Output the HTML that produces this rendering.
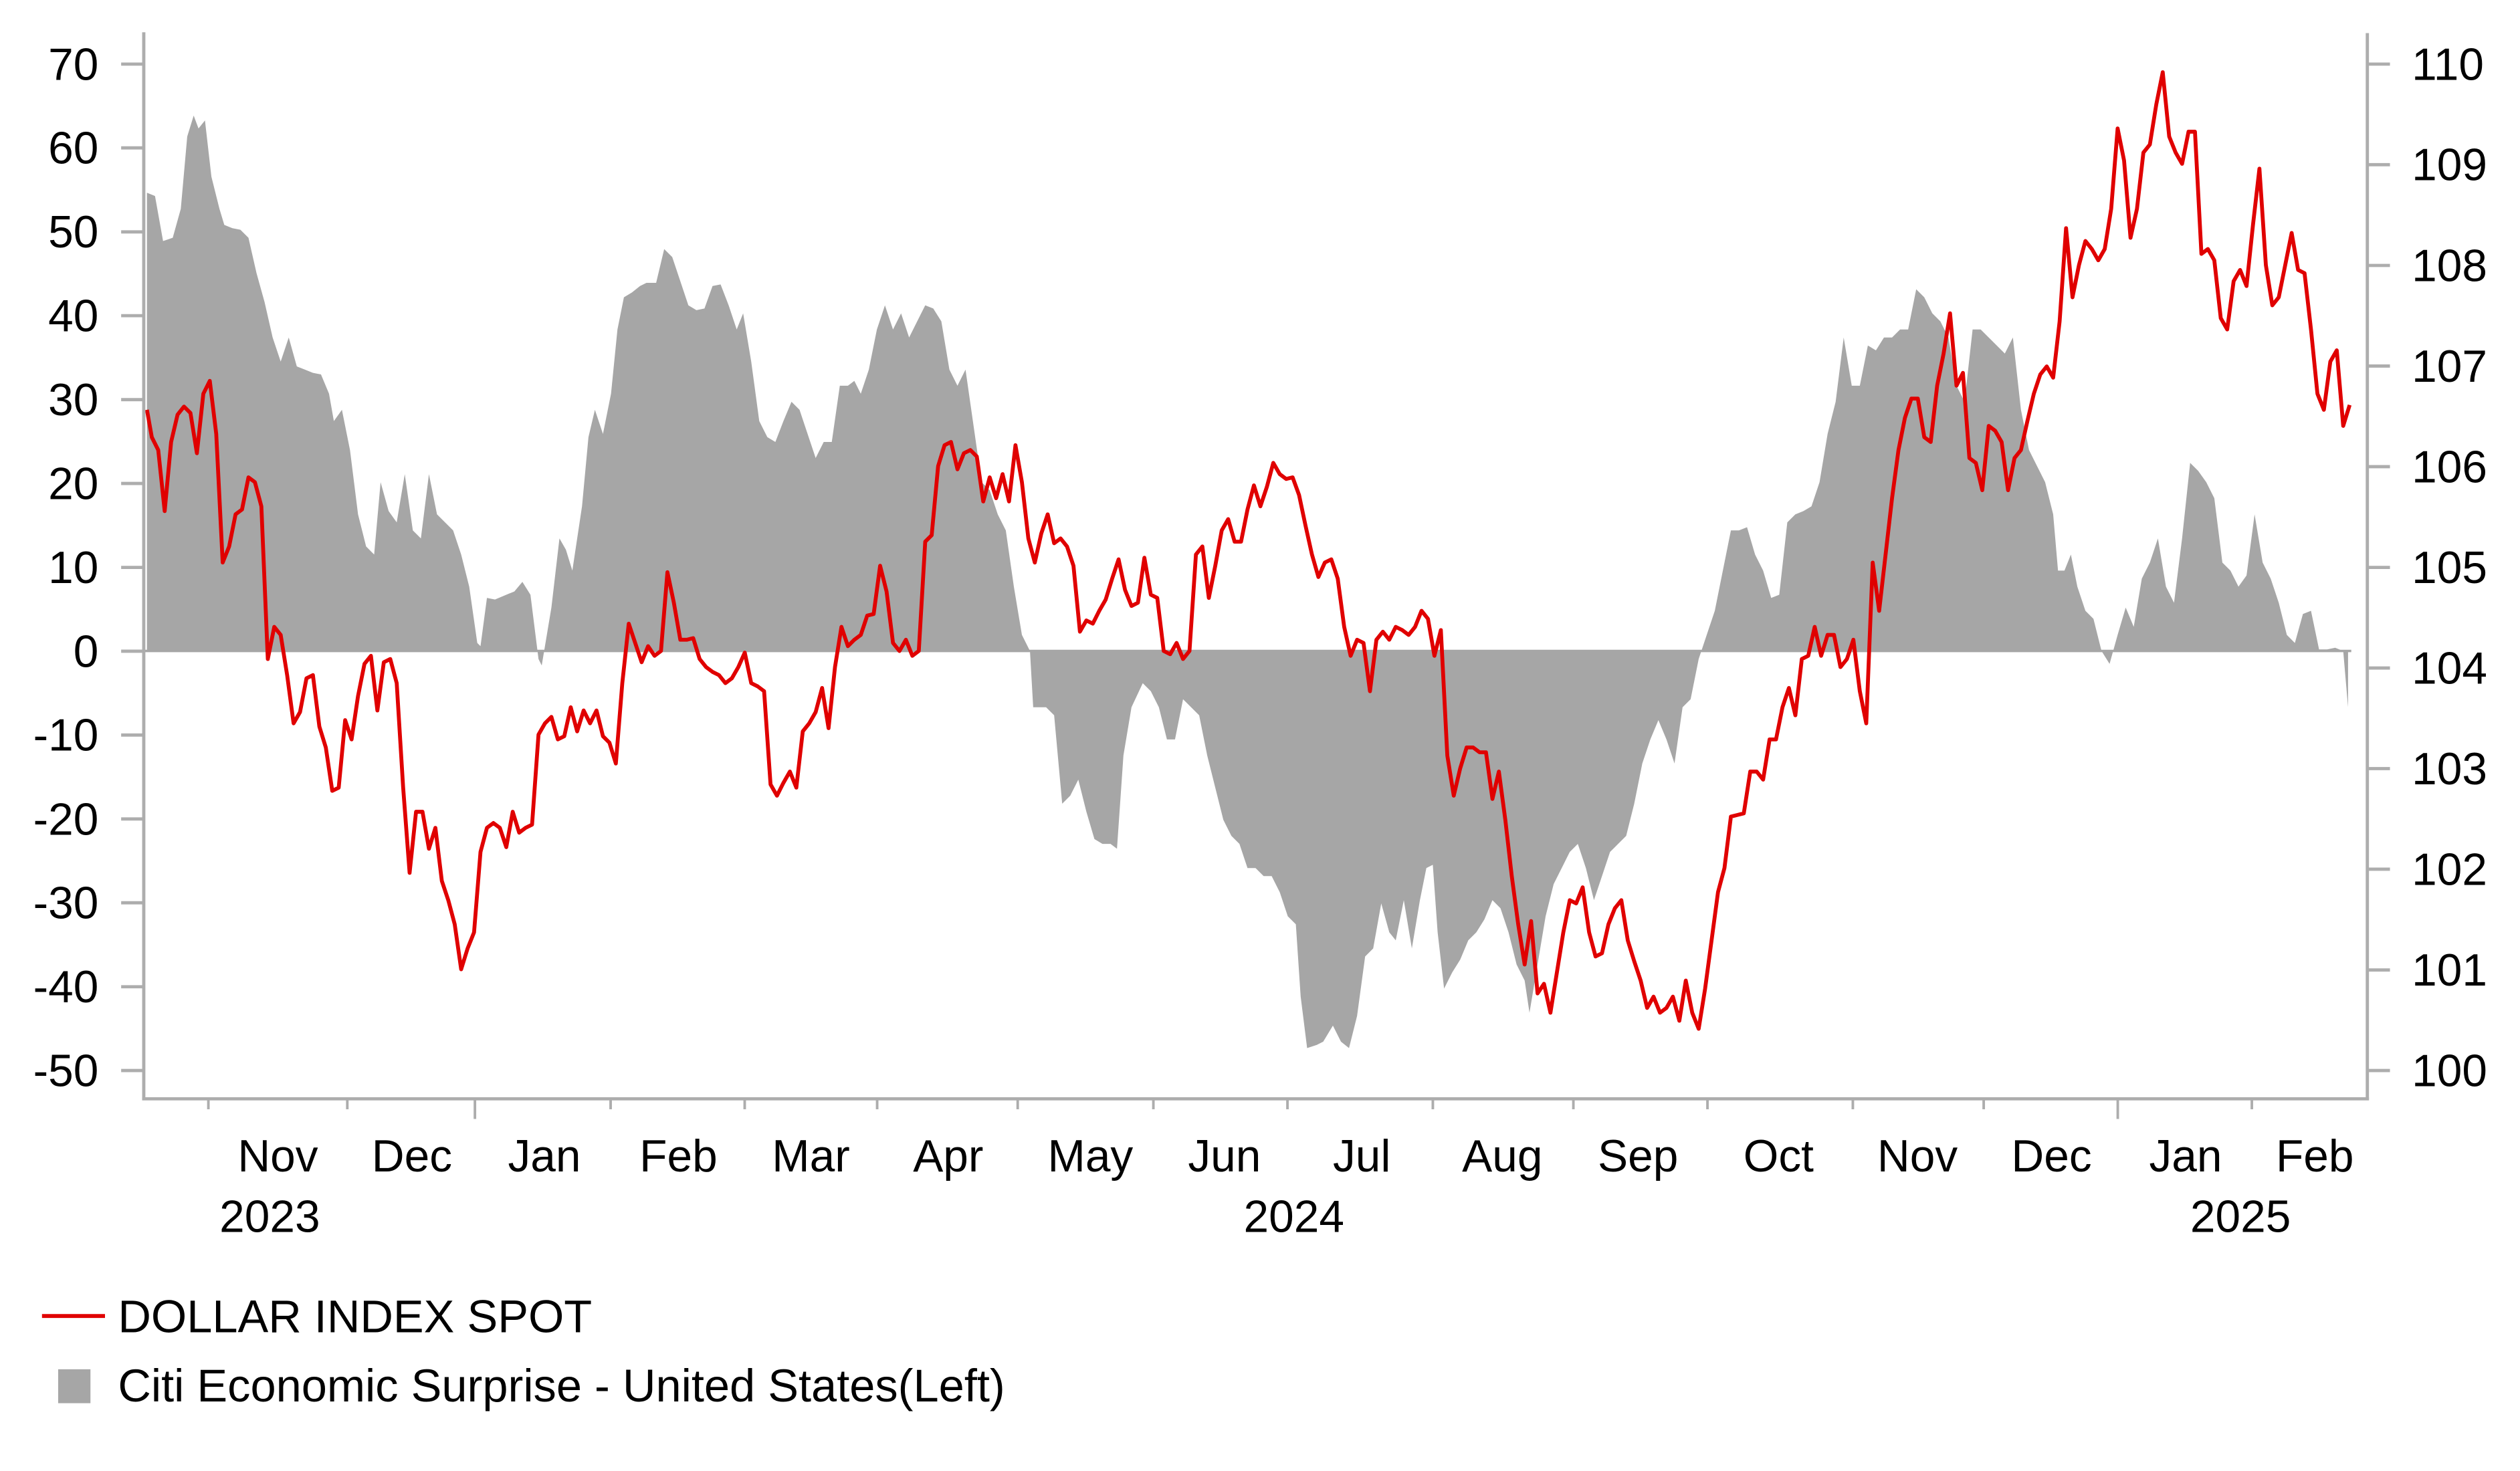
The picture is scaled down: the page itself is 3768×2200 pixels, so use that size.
<!DOCTYPE html>
<html><head><meta charset="utf-8"><style>
html,body{margin:0;padding:0;background:#fff;}
svg{display:block;}
text{font-family:"Liberation Sans",Arial,sans-serif;fill:#000;}
</style></head><body>
<svg width="3768" height="2200" viewBox="0 0 1560 911" preserveAspectRatio="none" xmlns="http://www.w3.org/2000/svg">
<rect width="1560" height="911" fill="#fff"/>
<g transform="matrix(0.9975 0 0 0.9957 -0.8 -0.1)">
<polygon fill="#a6a6a6" points="92,405 92,120 97,122 102,150 108,148 113,130 117,85 121,72 124,80 128,75 132,110 137,130 140,140 145,142 150,143 155,148 160,170 165,188 170,210 175,225 180,210 185,228 190,230 195,232 200,233 205,245 208,262 213,255 218,280 223,320 228,340 233,345 237,300 242,318 247,325 252,295 257,330 262,335 267,295 272,320 277,325 282,330 287,345 292,365 297,400 299,402 303,372 308,373 315,370 320,368 325,362 330,370 335,410 337,414 343,378 348,335 352,342 356,355 362,315 366,272 370,255 375,270 380,245 384,205 388,185 393,182 398,178 402,176 408,176 413,155 418,160 423,175 428,190 433,193 438,192 443,178 448,177 453,190 458,205 462,195 467,225 472,262 477,272 482,275 487,262 492,250 497,255 502,270 507,285 512,275 517,275 522,240 527,240 531,237 535,245 540,230 545,205 550,190 555,205 560,195 565,210 570,200 575,190 580,192 585,200 590,230 595,240 600,230 605,265 610,300 615,305 620,320 625,330 630,365 635,395 640,405 642,440 650,440 655,445 660,500 665,495 670,485 675,505 680,522 685,525 690,525 694,528 698,470 703,440 710,425 715,430 720,440 725,460 730,460 735,435 740,440 745,445 750,470 755,490 760,510 765,520 770,525 775,540 780,540 785,545 790,545 795,555 800,570 805,575 808,620 812,652 818,650 822,648 828,638 833,648 838,652 843,632 848,595 853,590 858,562 863,580 867,585 872,560 877,590 882,560 886,540 890,538 893,580 897,615 902,605 907,597 912,585 917,580 922,572 927,560 932,565 937,580 942,600 947,610 950,630 955,600 960,570 965,550 970,540 975,530 980,525 985,540 990,560 995,545 1000,530 1005,525 1010,520 1015,500 1020,475 1025,460 1030,448 1035,460 1040,475 1045,440 1050,435 1055,410 1060,395 1065,380 1070,355 1075,330 1080,330 1085,328 1090,345 1095,355 1100,372 1105,370 1110,325 1115,320 1120,318 1125,315 1130,300 1135,270 1140,250 1145,210 1150,240 1155,240 1160,215 1165,218 1170,210 1175,210 1180,205 1185,205 1190,180 1195,185 1200,195 1205,200 1210,210 1215,240 1220,250 1225,205 1230,205 1235,210 1240,215 1245,220 1250,210 1255,255 1260,280 1265,290 1270,300 1275,320 1278,355 1282,355 1286,345 1290,365 1295,380 1300,385 1305,405 1310,413 1315,395 1320,378 1325,390 1330,360 1335,350 1340,335 1345,365 1350,375 1355,335 1360,288 1365,293 1370,300 1375,310 1380,350 1385,355 1390,365 1395,358 1400,320 1405,350 1410,360 1415,375 1420,395 1425,400 1430,382 1435,380 1440,404 1445,404 1450,403 1455,405 1458,440 1458,405"/>
<line x1="90" y1="405" x2="1460" y2="405" stroke="#a6a6a6" stroke-width="1.5"/>
<polyline fill="none" stroke="#e00000" stroke-width="2.4" stroke-linejoin="round" points="92,255 95,272 99,280 103,318 107,275 111,258 115,253 119,257 123,282 127,245 131,237 135,270 139,350 143,340 147,320 151,317 155,297 159,300 163,315 167,410 171,390 175,395 179,420 183,450 187,443 191,422 195,420 199,452 203,465 207,492 211,490 215,448 219,460 223,433 227,413 231,408 235,442 239,412 243,410 247,425 251,490 255,543 259,505 263,505 267,528 271,515 275,548 279,560 283,575 287,603 291,590 295,580 299,530 303,515 307,512 311,515 315,527 319,505 323,518 327,515 331,513 335,457 339,450 343,446 347,460 351,458 355,440 359,455 363,442 367,450 371,442 375,458 379,462 383,475 387,425 391,388 395,400 399,412 403,402 407,408 411,405 415,356 419,375 423,398 427,398 431,397 435,410 439,415 443,418 447,420 451,425 455,422 459,415 463,406 467,425 471,427 475,430 479,488 483,495 487,487 491,480 495,490 499,455 503,450 507,443 511,428 515,453 519,415 523,390 527,402 531,398 535,395 539,383 543,382 547,352 551,368 555,400 559,405 563,398 567,408 571,405 575,337 579,333 583,290 587,277 591,275 595,292 599,282 603,280 607,284 611,312 615,297 619,310 623,295 627,312 631,277 635,300 639,335 643,350 647,332 651,320 655,338 659,335 663,340 667,352 671,393 675,386 679,388 683,380 687,373 691,360 695,348 699,367 703,377 707,375 711,347 715,370 719,372 723,405 727,407 731,400 735,410 739,405 743,345 747,340 751,372 755,352 759,330 763,323 767,337 771,337 775,317 779,302 783,315 787,303 791,288 795,295 799,298 803,297 807,308 811,327 815,345 819,359 823,350 827,348 831,360 835,390 839,408 843,398 847,400 851,430 855,398 859,393 863,398 867,390 871,392 875,395 879,390 883,380 887,385 891,408 895,392 899,470 903,495 907,478 911,465 915,465 919,468 923,468 927,497 931,480 935,510 939,545 943,575 947,600 951,573 955,618 959,612 963,630 967,605 971,580 975,560 979,562 983,552 987,580 991,595 995,593 999,575 1003,565 1007,560 1011,585 1015,598 1019,610 1023,627 1027,620 1031,630 1035,627 1039,620 1043,635 1047,610 1051,630 1055,640 1059,615 1063,585 1067,555 1071,540 1075,508 1079,507 1083,506 1087,480 1091,480 1095,485 1099,460 1103,460 1107,440 1111,428 1115,445 1119,410 1123,408 1127,390 1131,408 1135,395 1139,395 1143,415 1147,410 1151,398 1155,430 1159,450 1163,350 1167,380 1171,345 1175,310 1179,280 1183,260 1187,248 1191,248 1195,272 1199,275 1203,240 1207,220 1211,195 1215,240 1219,232 1223,285 1227,288 1231,305 1235,265 1239,268 1243,275 1247,305 1251,285 1255,280 1259,262 1263,245 1267,233 1271,228 1275,235 1279,200 1283,142 1287,185 1291,165 1295,150 1299,155 1303,162 1307,155 1311,130 1315,80 1319,100 1323,148 1327,130 1331,95 1335,90 1339,65 1343,45 1347,85 1351,95 1355,102 1359,82 1363,82 1367,158 1371,155 1375,162 1379,198 1383,205 1387,175 1391,168 1395,178 1399,140 1403,105 1407,165 1411,190 1415,185 1419,165 1423,145 1427,168 1431,170 1435,205 1439,245 1443,255 1447,225 1451,218 1455,265 1459,252"/>
</g>
<g stroke="#adadad" stroke-width="2" fill="none">
<line x1="89" y1="20" x2="89" y2="681"/>
<line x1="1465.5" y1="20.5" x2="1465.5" y2="681"/>
<line x1="88" y1="680.5" x2="1466.5" y2="680.5"/>
<path d="M75,39.7H89M75,91.6H89M75,143.6H89M75,195.5H89M75,247.5H89M75,299.4H89M75,351.4H89M75,403.3H89M75,455.2H89M75,507.2H89M75,559.1H89M75,611.1H89M75,663H89"/>
<path d="M1465.5,39.7H1479.5M1465.5,102H1479.5M1465.5,164.4H1479.5M1465.5,226.7H1479.5M1465.5,289H1479.5M1465.5,351.4H1479.5M1465.5,413.7H1479.5M1465.5,476H1479.5M1465.5,538.3H1479.5M1465.5,600.7H1479.5M1465.5,663H1479.5"/>
</g>
<g stroke="#adadad" stroke-width="1.6" fill="none">
<path d="M129,681V687M215,681V687M294,681V693M378,681V687M461,681V687M543,681V687M630,681V687M714,681V687M797,681V687M887,681V687M974,681V687M1057,681V687M1147,681V687M1228,681V687M1311,681V693M1394,681V687"/>
</g>
<g font-size="28" text-anchor="end">
<text x="61" y="49.4">70</text><text x="61" y="101.3">60</text><text x="61" y="153.3">50</text><text x="61" y="205.2">40</text><text x="61" y="257.2">30</text><text x="61" y="309.1">20</text><text x="61" y="361.1">10</text><text x="61" y="413">0</text><text x="61" y="464.9">-10</text><text x="61" y="516.9">-20</text><text x="61" y="568.8">-30</text><text x="61" y="620.8">-40</text><text x="61" y="672.7">-50</text>
</g>
<g font-size="28" text-anchor="start">
<text x="1493" y="49.4">110</text><text x="1493" y="111.7">109</text><text x="1493" y="174.1">108</text><text x="1493" y="236.4">107</text><text x="1493" y="298.7">106</text><text x="1493" y="361.1">105</text><text x="1493" y="423.4">104</text><text x="1493" y="485.7">103</text><text x="1493" y="548">102</text><text x="1493" y="610.4">101</text><text x="1493" y="672.7">100</text>
</g>
<g font-size="28" text-anchor="middle">
<text x="172" y="725.5">Nov</text><text x="255" y="725.5">Dec</text><text x="337" y="725.5">Jan</text><text x="420" y="725.5">Feb</text><text x="502" y="725.5">Mar</text><text x="587" y="725.5">Apr</text><text x="675" y="725.5">May</text><text x="758" y="725.5">Jun</text><text x="843" y="725.5">Jul</text><text x="930" y="725.5">Aug</text><text x="1014" y="725.5">Sep</text><text x="1101" y="725.5">Oct</text><text x="1187" y="725.5">Nov</text><text x="1270" y="725.5">Dec</text><text x="1353" y="725.5">Jan</text><text x="1433" y="725.5">Feb</text>
<text x="167" y="763">2023</text><text x="801" y="763">2024</text><text x="1387" y="763">2025</text>
</g>
<line x1="26" y1="815" x2="65" y2="815" stroke="#e00000" stroke-width="2.4"/>
<text x="73" y="825" font-size="28.4">DOLLAR INDEX SPOT</text>
<rect x="36" y="848" width="20" height="21" fill="#a6a6a6"/>
<text x="73" y="868" font-size="28.4">Citi Economic Surprise - United States(Left)</text>
</svg>
</body></html>
